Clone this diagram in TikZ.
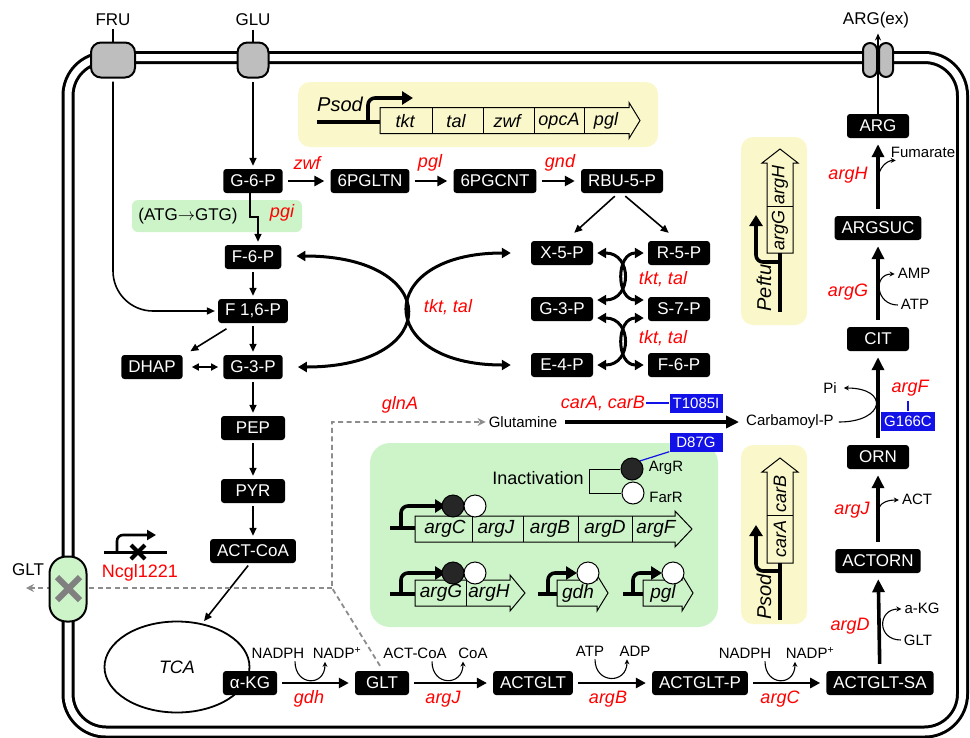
\documentclass[tikz,border=0pt]{standalone}
\usepackage{fontspec}
\setmainfont{Liberation Sans}
\usepackage{tikz}
\usetikzlibrary{arrows.meta}
\usetikzlibrary{calc}
\usetikzlibrary{shapes.geometric}
\definecolor{trgray}{RGB}{190,190,190}
\definecolor{pyellow}{RGB}{250,248,202}
\definecolor{pgreen}{RGB}{204,244,200}
\definecolor{mutblue}{RGB}{18,18,232}
\colorlet{dgray}{black!45}
\newcommand\fs[1]{\fontsize{#1}{#1}\selectfont}
% gene to the right: start x, body end x, middle y, tip x
\newcommand\generight[4]{\draw[line width=1pt] (#1,#3-13) -- (#2,#3-13) -- (#2,#3-18) -- (#4,#3) -- (#2,#3+18) -- (#2,#3+13) -- (#1,#3+13) -- cycle;}
% gene upwards: middle x, start y, body end y, tip y
\newcommand\geneup[4]{\draw[line width=1pt] (#1-13,#2) -- (#1-13,#3) -- (#1-18,#3) -- (#1,#4) -- (#1+18,#3) -- (#1+13,#3) -- (#1+13,#2) -- cycle;}
\tikzstyle{met}=[fill=black,text=white,rounded corners=3pt,inner xsep=7pt,inner ysep=0pt,minimum height=24pt,font=\fs{17}]
\tikzstyle{enz}=[text=red,font=\fs{18}\itshape,inner sep=1pt]
\tikzstyle{cof}=[font=\fs{15},inner sep=1pt]
\tikzstyle{gn}=[font=\fs{18}\itshape,inner sep=0pt]
\tikzstyle{mut}=[fill=mutblue,text=white,font=\fs{15},inner xsep=3pt,inner ysep=2pt,minimum height=19pt,minimum width=53pt]
\tikzstyle{trans}=[draw=black,fill=trgray,line width=2pt]
\tikzstyle{rep}=[circle,draw,line width=1pt,minimum size=22pt,inner sep=0pt]
\tikzstyle{rxn}=[line width=1.6pt,-{Triangle[length=8pt,width=7pt]},shorten >=3pt,shorten <=3pt]
\tikzstyle{rxnb}=[line width=2.6pt,-{Triangle[length=10pt,width=10pt]},shorten >=6pt,shorten <=5pt]
\tikzstyle{rxnc}=[line width=3.6pt,-{Triangle[length=13pt,width=12pt]},shorten >=6pt,shorten <=7pt]
\tikzstyle{exch}=[line width=3pt,{Triangle[length=9pt,width=10pt]}-{Triangle[length=9pt,width=10pt]}]
\tikzstyle{sidearr}=[line width=1.1pt,-{Stealth[length=5pt,width=5pt]}]
\tikzstyle{dsh}=[dgray,line width=1.8pt,dash pattern=on 5pt off 3.5pt,-{Stealth[length=8pt,width=8pt]}]
\tikzstyle{prom}=[line width=3.6pt,rounded corners=7pt]
\tikzstyle{promhead}=[-{Triangle[length=11pt,width=13pt]}]
\begin{document}
\begin{tikzpicture}[x=1pt,y=-1pt]
	\useasboundingbox (0,0) rectangle (970,737);
	% membrane
	\draw[line width=13pt,rounded corners=38pt] (68,57.5) rectangle (962.5,732);
	\draw[white,line width=7pt,rounded corners=38pt] (68,57.5) rectangle (962.5,732);
	\fill[pyellow,rounded corners=12pt] (298,82) rectangle (658,147);
	\fill[pyellow,rounded corners=12pt] (741,137) rectangle (807,325);
	\fill[pyellow,rounded corners=12pt] (741,445) rectangle (807,624);
	\fill[pgreen,rounded corners=20pt] (370,443) rectangle (718,627);
	\fill[pgreen,rounded corners=6pt] (132,200) rectangle (302,232);
	%
	\node[trans,rounded corners=10pt,minimum width=44pt,minimum height=35pt] (frut) at (113,60) {};
	\node[trans,rounded corners=10pt,minimum width=31pt,minimum height=35pt] (glut) at (253,60) {};
	\node[trans,rounded corners=7pt,minimum width=14pt,minimum height=34pt] (argta) at (870,60) {};
	\node[trans,rounded corners=7pt,minimum width=14pt,minimum height=34pt] (argtb) at (886,60) {};
	\node[font=\fs{17}] (fru) at (113,20) {FRU};
	\node[font=\fs{17}] (glu) at (253,20) {GLU};
	\node[font=\fs{17}] (argex) at (876,20) {ARG(ex)};
	\node[font=\fs{17}] (gltlbl) at (28,570) {GLT};
	\draw[line width=1.5pt] (fru) -- (frut);
	\draw[line width=1.5pt] (glu) -- (glut);
	%
	\node[met] (g6p) at (253,181) {G-6-P};
	\node[met] (pgltn) at (370,181) {6PGLTN};
	\node[met] (pgcnt) at (495,181) {6PGCNT};
	\node[met] (rbu) at (622,181) {RBU-5-P};
	\node[met] (f6p) at (253,257) {F-6-P};
	\node[met] (f16p) at (253,311) {F 1,6-P};
	\node[met] (dhap) at (152,367) {DHAP};
	\node[met] (g3p) at (253,367) {G-3-P};
	\node[met,minimum width=64pt] (pep) at (253,428) {PEP};
	\node[met,minimum width=64pt] (pyr) at (253,491) {PYR};
	\node[met] (actcoa) at (253,551) {ACT-CoA};
	%
	\node[met,minimum width=62pt] (x5p) at (562,253) {X-5-P};
	\node[met,minimum width=62pt] (r5p) at (679,253) {R-5-P};
	\node[met,minimum width=62pt] (g3pr) at (562,309) {G-3-P};
	\node[met,minimum width=62pt] (s7p) at (679,309) {S-7-P};
	\node[met,minimum width=62pt] (e4p) at (562,365) {E-4-P};
	\node[met,minimum width=62pt] (f6pr) at (679,365) {F-6-P};
	%
	\node[draw,ellipse,line width=1.8pt,minimum width=145pt,minimum height=91pt,font=\fs{18}\itshape] (tca) at (177,667) {TCA};
	\node[met] (akg) at (250,683) {α-KG};
	\node[met,minimum width=54pt] (glt) at (382,683) {GLT};
	\node[met] (actglt) at (533,683) {ACTGLT};
	\node[met] (actgltp) at (700,683) {ACTGLT-P};
	\node[met] (actgltsa) at (880,683) {ACTGLT-SA};
	\node[met] (actorn) at (878,561) {ACTORN};
	\node[met,minimum width=62pt] (orn) at (878,457) {ORN};
	\node[met,minimum width=62pt] (cit) at (878,339) {CIT};
	\node[met] (argsuc) at (878,228) {ARGSUC};
	\node[met,minimum width=62pt] (arg) at (878,126) {ARG};
	%
	\draw[rxn] (glut) -- (g6p);
	\draw[rxn,rounded corners=40pt] (frut) -- (frut |- f16p) -- (f16p);
	\draw[rxnb] (g6p) -- (pgltn);
	\draw[rxnb] (pgltn) -- (pgcnt);
	\draw[rxnb] (pgcnt) -- (rbu);
	\draw[rxn,shorten <=0pt] ($(g6p.south)+(-3,0)$) -- ++(0,24) -- ++(8,0) -- ($(f6p.north)+(5,0)$);
	\draw[rxn] (f6p) -- (f16p);
	\draw[rxn] (f16p) -- (g3p);
	\draw[rxn] ($(f16p.south)+(-24,4)$) -- ($(dhap.north east)+(5,-2)$);
	\draw[rxn,{Triangle[length=7pt,width=7pt]}-{Triangle[length=7pt,width=7pt]},shorten <=9pt,shorten >=5pt] (dhap) -- (g3p);
	\draw[rxn] (g3p) -- (pep);
	\draw[rxn] (pep) -- (pyr);
	\draw[rxn] (pyr) -- (actcoa);
	\draw[rxn] ($(actcoa.south)+(-3,0)$) -- (tca.60);
	\draw[rxn] ($(rbu.south)+(-5,1)$) -- ($(x5p.north)+(10,-6)$);
	\draw[rxn] ($(rbu.south)+(1,1)$) -- ($(r5p.north)+(-8,-6)$);
	%
	\draw[exch] ($(f6p.east)+(15,-1)$) .. controls +(146,0) and +(146,0) .. ($(g3p.east)+(15,0)$);
	\draw[exch] ($(x5p.west)+(-20,0)$) .. controls +(-137,0) and +(-137,0) .. ($(e4p.west)+(-20,0)$);
	\draw[exch] ($(x5p.east)+(4,0)$) .. controls +(35,0) and +(35,0) .. ($(g3pr.east)+(4,-9)$);
	\draw[exch] ($(r5p.west)+(-4,0)$) .. controls +(-28,0) and +(-28,0) .. ($(s7p.west)+(-4,-9)$);
	\draw[exch] ($(g3pr.east)+(4,9)$) .. controls +(35,0) and +(35,0) .. ($(e4p.east)+(4,0)$);
	\draw[exch] ($(s7p.west)+(-4,9)$) .. controls +(-28,0) and +(-28,0) .. ($(f6pr.west)+(-4,0)$);
	%
	\node[enz] (zwf) at (307,163) {zwf};
	\node[enz] (pgl) at (430,163) {pgl};
	\node[enz] (gnd) at (560,163) {gnd};
	\node[enz] (pgi) at (282,213) {pgi};
	\node[font=\fs{17}] (atg) at (188,216) {(ATG$\rightarrow$GTG)};
	\node[enz] (tkttal) at (448,307) {tkt, tal};
	\node[enz] (tkttalb) at (663,279) {tkt, tal};
	\node[enz] (tkttalc) at (663,338) {tkt, tal};
	%
	\draw[rxnb] (akg) -- (glt);
	\draw[rxnb] (glt) -- (actglt);
	\draw[rxnb] (actglt) -- (actgltp);
	\draw[rxnb] (actgltp) -- (actgltsa);
	\node[cof] (nadpha) at (278,653) {NADPH};
	\node[cof] (nadpa) at (337,653) {NADP\textsuperscript{+}};
	\node[cof] (actcoab) at (415,653) {ACT-CoA};
	\node[cof] (coa) at (473,653) {CoA};
	\node[cof] (atpa) at (590,651) {ATP};
	\node[cof] (adp) at (635,651) {ADP};
	\node[cof] (nadphb) at (745,653) {NADPH};
	\node[cof] (nadpb) at (810,653) {NADP\textsuperscript{+}};
	\draw[sidearr] ($(nadpha.south)+(17,2)$) .. controls +(0,25) and +(0,25) .. ($(nadpa.south)+(-12,2)$);
	\draw[sidearr] ($(actcoab.south)+(17,2)$) .. controls +(0,25) and +(0,25) .. ($(coa.south)+(-10,2)$);
	\draw[sidearr] ($(atpa.south)+(5,2)$) .. controls +(0,25) and +(0,25) .. ($(adp.south)+(-8,2)$);
	\draw[sidearr] ($(nadphb.south)+(20,2)$) .. controls +(0,25) and +(0,25) .. ($(nadpb.south)+(-15,2)$);
	\node[enz] (gdh) at (309,699) {gdh};
	\node[enz] (argja) at (443,699) {argJ};
	\node[enz] (argb) at (608,699) {argB};
	\node[enz] (argc) at (780,699) {argC};
	%
	\draw[rxnc] (actgltsa) -- (actorn);
	\draw[rxnc] (actorn) -- (orn);
	\draw[rxnc] (orn) -- (cit);
	\draw[rxnc] (cit) -- (argsuc);
	\draw[rxnc] (argsuc) -- (arg);
	\draw[line width=1.5pt,-{Stealth[length=7pt,width=6pt]},shorten >=2pt] (arg.north) -- (arg.north |- argex.south);
	\node[enz] (argh) at (848,175) {argH};
	\node[enz] (argg) at (848,292) {argG};
	\node[enz] (argf) at (910,388) {argF};
	\node[enz] (argjb) at (852,510) {argJ};
	\node[enz] (argd) at (850,626) {argD};
	\node[cof] (fum) at (923,152) {Fumarate};
	\node[cof] (amp) at (914,273) {AMP};
	\node[cof] (atpb) at (915,304) {ATP};
	\node[cof] (pil) at (830,388) {Pi};
	\node[cof] (carb) at (790,422) {Carbamoyl-P};
	\node[cof] (act) at (917,499) {ACT};
	\node[cof] (akgb) at (922,608) {a-KG};
	\node[cof] (gltb) at (918,640) {GLT};
	\draw[sidearr] ($(argsuc.north)!.45!(arg.south)$) .. controls +(0,-14) and +(-8,0) .. ($(fum.south west)+(6,2)$);
	\draw[sidearr] ($(atpb.west)+(-2,1)$) .. controls +(-22,0) and +(-22,0) .. ($(amp.west)+(-2,1)$);
	\draw[sidearr] ($(carb.east)+(4,0)$) .. controls +(46,0) and +(46,0) .. ($(pil.east)+(6,0)$);
	\draw[sidearr] ($(actorn.north)!.45!(orn.south)$) .. controls +(0,-12) and +(-8,0) .. ($(act.west)+(-2,1)$);
	\draw[sidearr] ($(gltb.west)+(-2,0)$) .. controls +(-24,0) and +(-24,0) .. ($(akgb.west)+(-2,1)$);
	%
	\node[cof] (gln) at (523,422) {Glutamine};
	\node[enz] (glna) at (400,405) {glnA};
	\node[enz] (carab) at (603,403) {carA, carB};
	\draw[rxnc] (gln) -- (carb);
	\node[mut] (tmut) at (696,403) {T1085I};
	\node[mut] (dmut) at (696,442) {D87G};
	\node[mut] (gmut) at (908,421) {G166C};
	\draw[mutblue,line width=1.2pt] (carab.east) -- (tmut.west);
	\draw[mutblue,line width=1.2pt] (gmut.north) -- ++(0,-10);
	%
	\node[font=\fs{20}\itshape] (psoda) at (340,104) {Psod};
	\generight{380}{629}{120.5}{640}
	\foreach \sx in {432,483,534,584} \draw[line width=1pt] (\sx,107.5) -- (\sx,133.5);
	\foreach \gx/\gname in {405/tkt,456/tal,507/zwf,559/opcA,606/pgl} \node[gn] (top\gname) at (\gx,121) {\gname};
	\draw[prom] (317,122) -- (380,122);
	\draw[prom,promhead] (368,122) -- (368,98) -- (413,98);
	%
	\geneup{780}{253}{163}{149}
	\draw[line width=1pt] (767,206) -- (793,206);
	\node[gn,rotate=90] (pargg) at (780,230) {argG};
	\node[gn,rotate=90] (pargh) at (780,185) {argH};
	\draw[prom] (780,312) -- (780,253);
	\draw[prom,promhead] (780,262) -- (756,262) -- (756,215);
	\node[font=\fs{20}\itshape,rotate=90] (peftu) at (764,288) {Peftu};
	\geneup{780}{563}{472}{458}
	\draw[line width=1pt] (767,515) -- (793,515);
	\node[gn,rotate=90] (pcara) at (780,539) {carA};
	\node[gn,rotate=90] (pcarb) at (780,494) {carB};
	\draw[prom] (780,620) -- (780,563);
	\draw[prom,promhead] (780,571) -- (756,571) -- (756,525);
	\node[font=\fs{20}\itshape,rotate=90] (psodb) at (764,597) {Psod};
	%
	\node[font=\fs{18}] (inact) at (538,478) {Inactivation};
	\node[rep,fill=black!85] (argr) at (632,469) {};
	\node[rep,fill=white] (farr) at (633,493) {};
	\node[cof] (argrl) at (666,468) {ArgR};
	\node[cof] (farrl) at (666,497) {FarR};
	\draw[line width=1pt] ($(argr.west)+(-1,0)$) -- ++(-30,0) |- ($(farr.west)+(-1,0)$);
	\draw[mutblue,line width=1.2pt] (dmut.south west) -- (argr.north east);
	%
	\generight{415}{675}{529}{692}
	\foreach \sx in {472,523,578,632} \draw[line width=1pt] (\sx,516) -- (\sx,542);
	\foreach \gx/\gname in {445/argC,496/argJ,550/argB,605/argD,656/argF} \node[gn,font=\fs{19}\itshape] (op\gname) at (\gx,529) {\gname};
	\draw[prom] (390,528) -- (415,528);
	\draw[prom,promhead] (401,528) -- (401,506) -- (446,506);
	\node[rep,fill=black!85] (ca) at (453,506) {};
	\node[rep,fill=white] (cb) at (475,506) {};
	%
	\generight{415}{510}{593}{525}
	\draw[line width=1pt] (466,580) -- (466,606);
	\node[gn,font=\fs{19}\itshape] (opargG) at (441,593) {argG};
	\node[gn,font=\fs{19}\itshape] (opargH) at (489,593) {argH};
	\draw[prom] (390,594) -- (415,594);
	\draw[prom,promhead] (401,594) -- (401,573) -- (446,573);
	\node[rep,fill=black!85] (cc) at (453,573) {};
	\node[rep,fill=white] (cd) at (475,573) {};
	\generight{557}{597}{593}{608}
	\node[gn,font=\fs{19}\itshape] (opgdh) at (578,594) {gdh};
	\draw[prom] (538,594) -- (557,594);
	\draw[prom,promhead] (548,594) -- (548,573) -- (577,573);
	\node[rep,fill=white] (ce) at (588,573) {};
	\generight{643}{682}{593}{693}
	\node[gn,font=\fs{19}\itshape] (oppgl) at (663,594) {pgl};
	\draw[prom] (623,594) -- (643,594);
	\draw[prom,promhead] (633,594) -- (633,573) -- (662,573);
	\node[rep,fill=white] (cf) at (673,573) {};
	%
	\draw[line width=3pt] (104,552) -- (167,552);
	\draw[line width=2.6pt,rounded corners=6pt,-{Triangle[length=9pt,width=10pt]}] (117,552) -- (117,535) -- (156,535);
	\draw[line width=4pt] (131,545) -- (145,559) (131,559) -- (145,545);
	\node[text=red,font=\fs{18}] (ncgl) at (140,573) {Ncgl1221};
	%
	\coordinate (dj) at (332,588);
	\coordinate (gltout) at (26,588);
	\draw[dsh,shorten >=2pt] ($(glt.north)+(-2,-5)$) -- (dj) -- (dj |- gln) -- (gln);
	\draw[dsh] (dj) -- (gltout);
	\node[draw,line width=2pt,fill=pgreen,rounded corners=17pt,minimum width=37pt,minimum height=65pt] (gltex) at (68,589) {};
	\draw[gray,line width=6pt] (57,577) -- (80,600) (57,600) -- (80,577);
\end{tikzpicture}
\end{document}
